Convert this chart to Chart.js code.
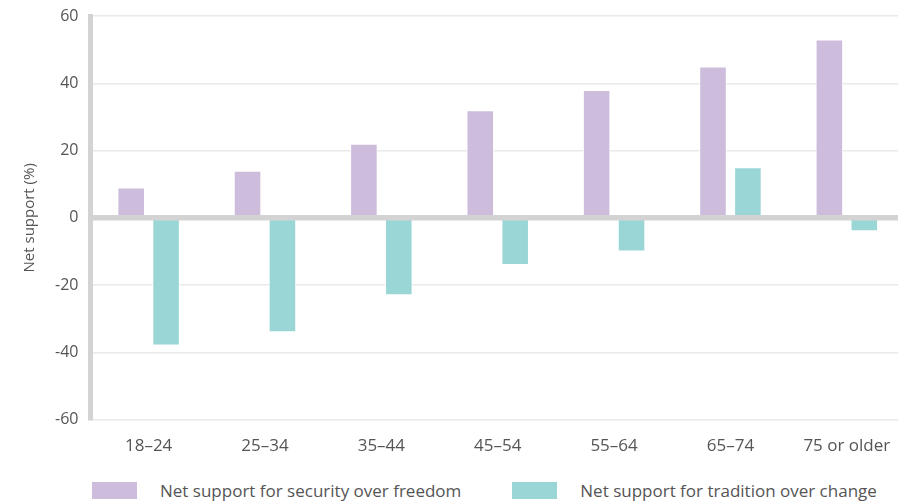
<!DOCTYPE html>
<html>
<head>
<meta charset="utf-8">
<script src="https://cdn.jsdelivr.net/npm/chart.js@4.4.1/dist/chart.umd.min.js"></script>
<style>
    body { margin: 0; background: #fff; font-family: "Open Sans", sans-serif; }
    #wrap { position: relative; width: 898px; height: 504px; overflow: hidden; }
    #chart-box { position: absolute; left: 0; top: 0; width: 905px; height: 474px; }
    #legend { position: absolute; left: 92px; top: 479px; display: flex; font-size: 17px; color: #555; }
    .legend-item { display: flex; align-items: center; }
    .legend-item span.swatch { width: 45px; height: 17px; margin-right: 23px; }
    .legend-item + .legend-item { margin-left: 51px; }
</style>
</head>
<body>
<div id="wrap">
    <div id="chart-box"><canvas id="chart"></canvas></div>
    <div id="legend"></div>
</div>
<script>
const ageGroups = ["18–24", "25–34", "35–44", "45–54", "55–64", "65–74", "75 or older"];
const securityOverFreedom = [9, 14, 22, 32, 38, 45, 53];
const traditionOverChange = [-38, -34, -23, -14, -10, 15, -4];
const seriesNames = ["Net support for security over freedom", "Net support for tradition over change"];
const seriesColors = ["#cdbcdc", "#9bd6d6"];

// thick zero line on top of the bars
const zeroLine = {
    id: 'zeroLine',
    afterDatasetsDraw(chart) {
        const y = chart.scales.y.getPixelForValue(0);
        const ctx = chart.ctx;
        ctx.save();
        ctx.strokeStyle = '#d3d3d3';
        ctx.lineWidth = 5.5;
        ctx.beginPath();
        ctx.moveTo(chart.chartArea.left, y);
        ctx.lineTo(chart.chartArea.right, y);
        ctx.stroke();
        ctx.restore();
    }
};

function buildLegend() {
    let legend = document.querySelector('#legend');
    seriesNames.forEach((name, i) => {
        let item = document.createElement('div');
        item.classList.add('legend-item');
        let swatch = document.createElement('span');
        swatch.classList.add('swatch');
        swatch.style.backgroundColor = seriesColors[i];
        let label = document.createElement('span');
        label.textContent = name;
        item.appendChild(swatch);
        item.appendChild(label);
        legend.appendChild(item);
    });
}

new Chart(document.getElementById('chart'), {
    type: 'bar',
    data: {
        labels: ageGroups,
        datasets: [
            { label: seriesNames[0], data: securityOverFreedom, backgroundColor: seriesColors[0], borderColor: '#ffffff', borderWidth: 1 },
            { label: seriesNames[1], data: traditionOverChange, backgroundColor: seriesColors[1], borderColor: '#ffffff', borderWidth: 1 }
        ]
    },
    options: {
        responsive: true,
        maintainAspectRatio: false,
        animation: false,
        datasets: { bar: { categoryPercentage: 0.6, barPercentage: 0.79 } },
        layout: { padding: { top: 16, right: 0, bottom: 10, left: 17 } },
        plugins: {
            legend: { display: false },
            tooltip: { enabled: false }
        },
        scales: {
            x: {
                grid: { display: false },
                border: { display: false },
                ticks: { color: '#555', font: { family: 'Open Sans', size: 17 }, padding: 8 }
            },
            y: {
                min: -60,
                max: 60,
                afterFit: (scale) => { scale.paddingTop = 10; },
                ticks: { stepSize: 20, color: '#555', font: { family: 'Open Sans', size: 16 }, padding: 12 },
                grid: { color: '#e9e9e9', lineWidth: 1.5, drawTicks: false },
                border: { color: '#d3d3d3', width: 5 },
                title: { display: true, text: 'Net support (%)', color: '#555', font: { family: 'Open Sans', size: 15 }, padding: 4 }
            }
        }
    },
    plugins: [zeroLine]
});

buildLegend();
</script>
</body>
</html>
